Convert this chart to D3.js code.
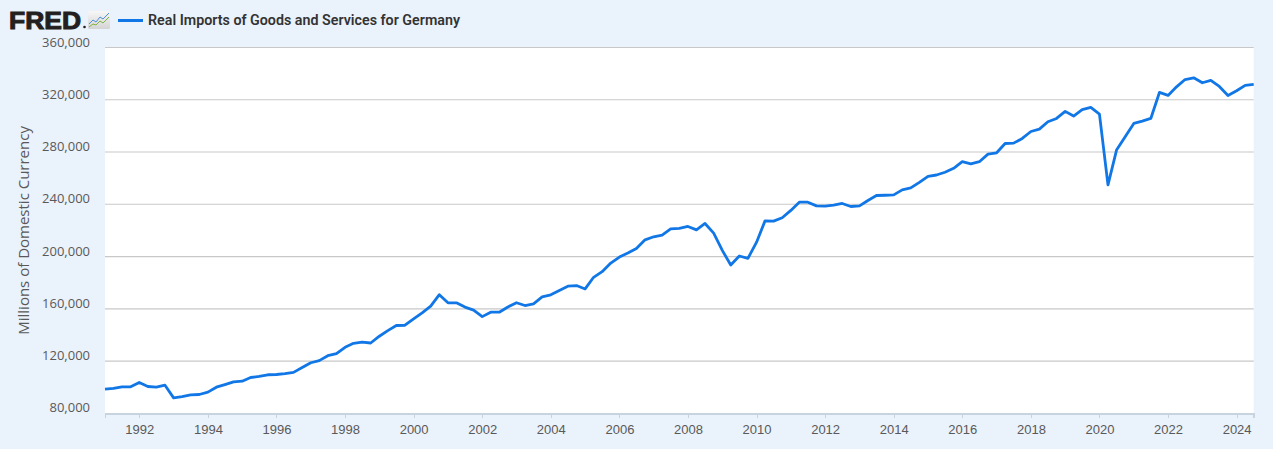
<!DOCTYPE html>
<html>
<head>
<meta charset="utf-8">
<script src="https://cdnjs.cloudflare.com/ajax/libs/d3/7.8.5/d3.min.js"></script>
<style>
    body { margin: 0; background: #eaf2fb; }
    svg { display: block; font-family: 'Open Sans', 'Noto Sans', sans-serif; }
    .grid line { stroke: #c8c8c8; stroke-width: 1.2; }
    .y.axis text { fill: #595959; font-size: 13px; }
    .x.axis text { fill: #595959; font-size: 13px; }
    .x.axis line, .x.axis path { stroke: #c8d3e0; shape-rendering: crispEdges; }
    .axis-label { fill: #595959; font-size: 15px; }
    .series { fill: none; stroke: #1177e6; stroke-width: 2.8; stroke-linejoin: round; }
</style>
</head>
<body>
<svg width="1273" height="449"></svg>
<script>
var svg = d3.select('svg');

var svgWidth = +svg.attr('width');
var svgHeight = +svg.attr('height');
var padding = {t: 47.5, r: 19.3, b: 35.7, l: 105};

var chartWidth = svgWidth - padding.l - padding.r;
var chartHeight = svgHeight - padding.t - padding.b;

var seriesTitle = 'Real Imports of Goods and Services for Germany';
var yTitle = 'Millions of Domestic Currency';

// quarterly observations, first one is 1991 Q1, last one 2024 Q3
var firstQuarter = '1991-01-01';
var lastQuarter = '2024-07-01';

// millions of domestic currency
var values = [
    98460, 99000, 100250, 100250,      // 1991
    103600, 100500, 100000, 101500,    // 1992
    91800, 92800, 94100, 94400,        // 1993
    96200, 100000, 102000, 104100,     // 1994
    104600, 107400, 108200, 109500,    // 1995
    109700, 110300, 111300, 115100,    // 1996
    118700, 120300, 124100, 125600,    // 1997
    130500, 133600, 134400, 133800,    // 1998
    139000, 143300, 147200, 147400,    // 1999
    152300, 156900, 162000, 170800,    // 2000
    164600, 164600, 161300, 159000,    // 2001
    154000, 157400, 157400, 161400,    // 2002
    164600, 162500, 163800, 169100,    // 2003
    170700, 174000, 177300, 177800,    // 2004
    175200, 184100, 188400, 195000,    // 2005
    199600, 202700, 206200, 212800,    // 2006
    215100, 216400, 221200, 221500,    // 2007
    223000, 220400, 225300, 217900,    // 2008
    204700, 193500, 200400, 198600,    // 2009
    211000, 227300, 227100, 229700,    // 2010
    235300, 241600, 241600, 238800,    // 2011
    238600, 239300, 240600, 238300,    // 2012
    238800, 242900, 246700, 246900,    // 2013
    247200, 251000, 252500, 256800,    // 2014
    261400, 262400, 264500, 267500,    // 2015
    272600, 271000, 272600, 278400,    // 2016
    279400, 286500, 286800, 290400,    // 2017
    295700, 297500, 303200, 305700,    // 2018
    311100, 307500, 312400, 314100,    // 2019
    309000, 254800, 281500, 291700,    // 2020
    301900, 303700, 305700, 325600,    // 2021
    323300, 329900, 335500, 336800,    // 2022
    333000, 334800, 330200, 323300,    // 2023
    326900, 331000, 331700             // 2024
];

var xTickYears = [1992, 1994, 1996, 1998, 2000, 2002, 2004, 2006, 2008,
    2010, 2012, 2014, 2016, 2018, 2020, 2022, 2024];
var yTickValues = [80000, 120000, 160000, 200000, 240000, 280000, 320000, 360000];

var parseDate = d3.timeParse('%Y-%m-%d');
var start = parseDate(firstQuarter);
var end = parseDate(lastQuarter);
var quarters = d3.timeMonth.every(3).range(start, d3.timeDay.offset(end, 1));

var data = quarters.map(function(d, i) {
    return {date: d, value: values[i]};
});

var xScale = d3.scaleTime().domain([start, end]).range([0, chartWidth]);
var yScale = d3.scaleLinear().domain([80000, 360000]).range([chartHeight, 0]);

var xAxis = d3.axisBottom(xScale)
    .tickValues(xTickYears.map(function(y) { return new Date(y, 0, 1); }))
    .tickFormat(d3.timeFormat('%Y'))
    .tickSize(5)
    .tickPadding(6);

// background of the plot area
svg.append('rect')
    .attr('x', padding.l)
    .attr('y', padding.t)
    .attr('width', chartWidth)
    .attr('height', chartHeight)
    .attr('fill', '#ffffff');

var chartG = svg.append('g')
    .attr('transform', 'translate(' + [padding.l, padding.t] + ')');

// horizontal grid lines
chartG.append('g')
    .attr('class', 'grid')
    .selectAll('line')
    .data(yTickValues.slice(1))
    .enter()
    .append('line')
    .attr('x1', 0)
    .attr('x2', chartWidth)
    .attr('y1', function(d) { return yScale(d); })
    .attr('y2', function(d) { return yScale(d); });

// y tick labels sit just above their grid line
chartG.append('g')
    .attr('class', 'y axis')
    .selectAll('text')
    .data(yTickValues)
    .enter()
    .append('text')
    .attr('x', -15)
    .attr('y', function(d) { return yScale(d) - 1; })
    .attr('text-anchor', 'end')
    .text(d3.format(','));

chartG.append('g')
    .attr('class', 'x axis')
    .attr('transform', 'translate(' + [0, chartHeight] + ')')
    .call(xAxis)
    .call(function(g) { g.select('.domain').attr('stroke-width', 1.5); });

chartG.select('.x.axis').selectAll('text').attr('fill', '#595959');

chartG.append('path')
    .datum(data)
    .attr('class', 'series')
    .attr('d', d3.line()
        .x(function(d) { return xScale(d.date); })
        .y(function(d) { return yScale(d.value); }));

svg.append('text')
    .attr('class', 'axis-label')
    .attr('text-anchor', 'middle')
    .attr('transform', 'translate(' + [29, padding.t + chartHeight / 2] + ')rotate(-90)')
    .text(yTitle);

// header: FRED logo and legend
var header = svg.append('g');

header.append('text')
    .attr('x', 9)
    .attr('y', 28.5)
    .attr('font-family', "'Liberation Sans', Arial, sans-serif")
    .attr('font-weight', 900)
    .attr('font-size', 24)
    .attr('fill', '#231f20')
    .attr('stroke', '#231f20')
    .attr('stroke-width', 1)
    .attr('textLength', 72)
    .attr('lengthAdjust', 'spacingAndGlyphs')
    .text('FRED');

header.append('circle')
    .attr('cx', 84.5).attr('cy', 27).attr('r', 1.3)
    .attr('fill', '#231f20');

var grad = svg.append('defs').append('linearGradient')
    .attr('id', 'iconGrad')
    .attr('x1', 0).attr('y1', 0).attr('x2', 0).attr('y2', 1);
grad.append('stop').attr('offset', '0%').attr('stop-color', '#f7f7f7');
grad.append('stop').attr('offset', '100%').attr('stop-color', '#d4d4d4');

header.append('rect')
    .attr('x', 88).attr('y', 11).attr('width', 22).attr('height', 18)
    .attr('rx', 1.5)
    .attr('fill', 'url(#iconGrad)');
header.append('polyline')
    .attr('points', '89,24 93,20 96,22 100,17 103,19 109,13')
    .attr('fill', 'none').attr('stroke', '#4a8fd8').attr('stroke-width', 1);
header.append('polyline')
    .attr('points', '89,27 93,24 96,25 100,21 103,23 109,17')
    .attr('fill', 'none').attr('stroke', '#7cb342').attr('stroke-width', 1);

header.append('line')
    .attr('x1', 118).attr('x2', 143)
    .attr('y1', 20.5).attr('y2', 20.5)
    .attr('stroke', '#1177e6')
    .attr('stroke-width', 3);

header.append('text')
    .attr('x', 148)
    .attr('y', 25)
    .attr('font-family', "Roboto, 'Open Sans', sans-serif")
    .attr('font-weight', 600)
    .attr('font-size', 14.5)
    .attr('fill', '#333333')
    .attr('textLength', 312)
    .attr('lengthAdjust', 'spacingAndGlyphs')
    .text(seriesTitle);
</script>
</body>
</html>
